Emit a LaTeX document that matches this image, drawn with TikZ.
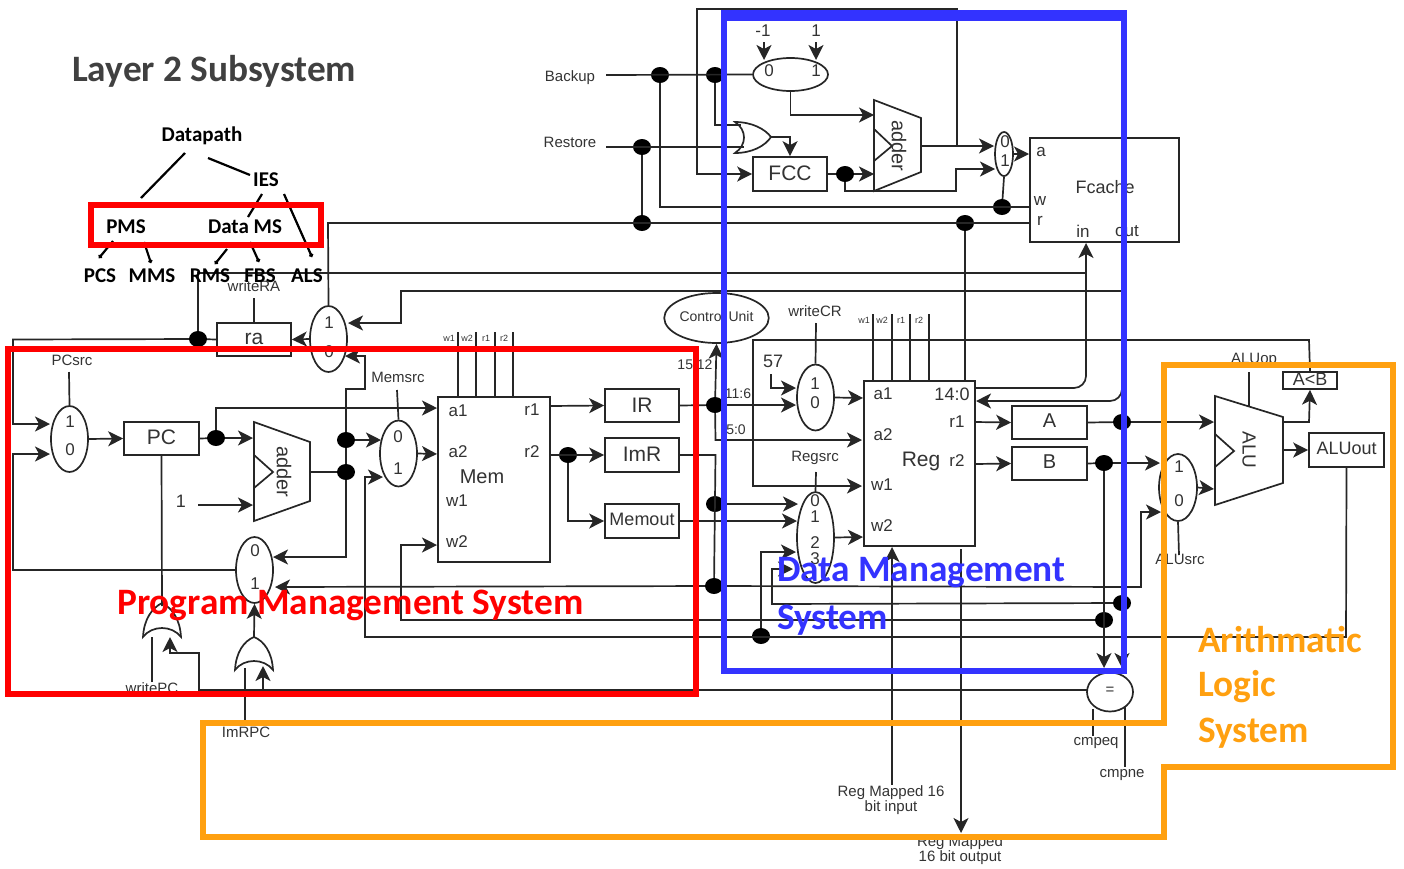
\documentclass[tikz,border=0pt]{standalone}
\usepackage{fontspec}
\setmainfont{Liberation Sans}
\newfontfamily\carl{Carlito}
\usetikzlibrary{arrows.meta,shapes.geometric}
\newcommand{\fz}[1]{\fontsize{#1}{#1}\selectfont}
\newcommand{\up}[2]{\raisebox{#1pt}{#2}}
\definecolor{wirec}{HTML}{262626}
\definecolor{labc}{HTML}{333333}
\definecolor{orangeb}{HTML}{FFA010}
\definecolor{blueb}{HTML}{3333FF}
\definecolor{title}{HTML}{404040}
\tikzset{
 wire/.style={draw=wirec,line width=1.7pt,line join=miter},
 arr/.style={wire,-{Stealth[length=15pt,width=15pt,inset=4pt]}},
 box/.style={draw=wirec,line width=1.7pt,rectangle,inner sep=0pt,fill=white,text=labc},
 mux/.style={draw=wirec,line width=1.7pt,ellipse,inner sep=0pt,minimum width=37pt,minimum height=66pt},
 jdot/.style={ellipse,fill=black,inner sep=0pt,minimum width=18pt,minimum height=16pt},
 shapeline/.style={draw=wirec,line width=1.7pt,line join=miter},
 lab/.style={inner sep=0pt,text=labc,font=\fz{15},align=center},
 lab14/.style={lab,font=\fz{14}},
 lab18/.style={lab,font=\fz{18}},
 lab17/.style={lab,font=\fz{17}},
 lab9/.style={lab,font=\fz{9}},
 lab21/.style={lab,font=\fz{21}},
 tree/.style={inner sep=0pt,text=black,font=\carl\bfseries\fz{21}},
 treeline/.style={draw=black,line width=2.2pt},
 frame/.style={line width=6pt,line join=miter,fill=none},
 sysname/.style={inner sep=0pt,anchor=west,font=\carl\bfseries\fz{37.3}},
}
\begin{document}
\begin{tikzpicture}[x=1pt,y=-1pt]
\useasboundingbox (0,0) rectangle (1404,868);
% ---------- ports and free ends
\coordinate (pmI1) at (50,424); \coordinate (pmI0) at (50,454);
\coordinate (aI1) at (253,438); \coordinate (aI2) at (253,505);
\coordinate (aO) at (310,472); \coordinate (cOne) at (198,505);
\coordinate (memA1) at (437,408); \coordinate (memA2) at (437,454);
\coordinate (memW2) at (437,545); \coordinate (memR1) at (550,406);
\coordinate (memR2) at (550,455);
\coordinate (mmI0) at (381,440); \coordinate (mmI1) at (383,477);
\coordinate (rmI1) at (348,323); \coordinate (rmI0) at (345,356);
\coordinate (lmI0) at (273,557); \coordinate (lmI1) at (275,587);
\coordinate (regA1) at (863,398); \coordinate (regA2) at (862,440);
\coordinate (regW1) at (862,486); \coordinate (regW2) at (863,537);
\coordinate (reg140) at (975,388); \coordinate (regIn) at (976,401);
\coordinate (regR1) at (975,422); \coordinate (regR2) at (975,464);
\coordinate (wcI1) at (796,388); \coordinate (wcI0) at (796,405);
\coordinate (rsI0) at (798,504); \coordinate (rsI1) at (797,521);
\coordinate (rsI2) at (796,552); \coordinate (rsI3) at (793,569);
\coordinate (amI1) at (1160,463); \coordinate (amI0) at (1161,512);
\coordinate (aluA) at (1214,422); \coordinate (aluB) at (1214,489);
\coordinate (aluO1) at (1283,422); \coordinate (aluO2) at (1283,450);
\coordinate (fcA) at (1029,154); \coordinate (fcW) at (1030,207);
\coordinate (fcR) at (1030,223); \coordinate (fcIn) at (1086,243);
\coordinate (jIn) at (1086,273); \coordinate (jBack) at (1122,291);
\coordinate (a2I1) at (874,115); \coordinate (a2I2) at (874,174);
\coordinate (a2O) at (921,146); \coordinate (jFb) at (957,146);
\coordinate (smI0) at (994,146); \coordinate (smI1) at (995,169);
\coordinate (orA1) at (741,125); \coordinate (orA2) at (744,147);
\coordinate (orO) at (771,137);
\coordinate (backupEnd) at (606,75); \coordinate (restoreEnd) at (606,147);
\coordinate (g1R) at (170,637); \coordinate (g1L) at (152,637); \coordinate (g1T) at (162,606);
\coordinate (g2R) at (263,666); \coordinate (g2L) at (245,668); \coordinate (g2T) at (254,637);
\coordinate (writePCc) at (152,682); \coordinate (imRPCc) at (245,720);
\coordinate (regInB) at (892,785); \coordinate (regOutB) at (961,833);
\coordinate (regOutT) at (961,549); \coordinate (regInT) at (892,547);
\coordinate (eqA) at (1122,668); \coordinate (eqB) at (1104,668);
\coordinate (eqW) at (1087,690);
\coordinate (cmpeqE) at (1093,736); \coordinate (cmpneE) at (1125,767);
\coordinate (cPCsrc) at (69,372); \coordinate (cMemsrc) at (397,390);
\coordinate (cWriteRA) at (254,298); \coordinate (cWriteCR) at (816,323);
\coordinate (cRegsrc) at (816,472); \coordinate (cALUsrc) at (1179,555);
\coordinate (cALUop) at (1249,372); \coordinate (aluTop) at (1249,407);
\coordinate (c57) at (771,374); \coordinate (cm1) at (764,42); \coordinate (cp1) at (816,42);
\coordinate (fmI0) at (764,60); \coordinate (fmI1) at (816,60);
% ---------- boxes and muxes
\node[box,minimum width=75pt,minimum height=33pt,font=\fz{21}] (pc) at (161.5,438.5) {\up{2}{PC}};
\node[box,minimum width=74pt,minimum height=33pt,font=\fz{21}] (ra) at (254,339.5) {\up{1}{ra}};
\node[box,minimum width=112pt,minimum height=165pt] (mem) at (494,479.5) {};
\node[box,minimum width=74pt,minimum height=33pt,font=\fz{21}] (ir) at (642,405.5) {\up{1}{IR}};
\node[box,minimum width=74pt,minimum height=34pt,font=\fz{21}] (imr) at (642,455) {\up{2}{ImR}};
\node[box,minimum width=74pt,minimum height=34pt,font=\fz{18}] (memout) at (642,521) {\up{3}{Memout}};
\node[box,minimum width=111pt,minimum height=165pt] (reg) at (919.5,463.5) {};
\node[box,minimum width=75pt,minimum height=33pt,font=\fz{20}] (rega) at (1049.5,422.5) {\up{3}{A}};
\node[box,minimum width=75pt,minimum height=33pt,font=\fz{20}] (regb) at (1049.5,463.5) {\up{3}{B}};
\node[box,minimum width=54pt,minimum height=17pt,font=\fz{18}] (aob) at (1310,380.5) {\up{2}{A<B}};
\node[box,minimum width=75pt,minimum height=34pt,font=\fz{18}] (aluout) at (1346.5,450) {\up{3}{ALUout}};
\node[box,minimum width=74pt,minimum height=34pt,font=\fz{21}] (fcc) at (790,174) {\up{2}{FCC}};
\node[box,minimum width=149pt,minimum height=104pt] (fcache) at (1104.5,190) {};
\node[mux] (pcmux) at (69.5,439) {};
\node[mux] (ramux) at (328.5,339) {};
\node[mux] (memmux) at (398.5,453.5) {};
\node[mux] (lomux) at (254.5,570) {};
\node[mux] (wcmux) at (815.5,397.5) {};
\node[mux,minimum height=91pt] (rsmux) at (815.5,537.5) {};
\node[mux,minimum height=67pt,minimum width=38pt] (alumux) at (1178,487.5) {};
\node[mux,minimum width=75pt,minimum height=33pt] (fmux) at (790.5,74.5) {};
\node[mux,minimum width=18pt,minimum height=44pt] (smux) at (1004,154) {};
\node[draw=wirec,line width=1.7pt,ellipse,inner sep=0pt,minimum width=46pt,minimum height=39pt,text=labc,font=\fz{15}] (eq) at (1110,692) {\up{3}{=}};
\node[draw=wirec,line width=1.7pt,ellipse,inner sep=0pt,minimum width=103pt,minimum height=50pt,text=labc,font=\fz{14}] (cu) at (716.5,318) {\up{4}{Control Unit}};
% ---------- junction dots
\node[jdot] (dRA) at (198,339) {};
\node[jdot] (dPC) at (216,438) {};
\node[jdot] (dMem) at (346,440) {};
\node[jdot] (dAdd) at (346,472) {};
\node[jdot] (dR2) at (568,455) {};
\node[jdot] (dIR) at (715,405) {};
\node[jdot] (dImR) at (715,504) {};
\node[jdot] (dP) at (714,586) {};
\node[jdot] (dY) at (761,636) {};
\node[jdot] (dA) at (1122,422) {};
\node[jdot] (dB) at (1104,463) {};
\node[jdot] (dA2) at (1122,603) {};
\node[jdot] (dB2) at (1104,620) {};
\node[jdot] (dBk1) at (660,75) {};
\node[jdot] (dBk2) at (715,75) {};
\node[jdot] (dRs1) at (642,147) {};
\node[jdot] (dRs2) at (642,223) {};
\node[jdot] (dFcc) at (845,174) {};
\node[jdot] (dW) at (1002,207) {};
\node[jdot] (dFr) at (965,223) {};
% ---------- drawn shapes
\draw[shapeline,fill=white] (254,422) -- (310,442) -- (310,501) -- (254,521) -- cycle;
\draw[shapeline] (254,455) -- (273,472) -- (254,488);
\draw[shapeline,fill=white] (874,100) -- (921,118) -- (921,172) -- (874,191) -- cycle;
\draw[shapeline] (874,129) -- (892,146) -- (874,161);
\draw[shapeline,fill=white] (1215,396) -- (1283,417) -- (1283,483) -- (1215,505) -- cycle;
\draw[shapeline] (1215,434) -- (1234,451) -- (1215,467);
% OR gates
\draw[shapeline,fill=white] (143,637) .. controls (144,619) and (152,608) .. (162,603) .. controls (172,608) and (180,619) .. (181,637) .. controls (172,625) and (152,625) .. (143,637) -- cycle;
\draw[shapeline,fill=white] (235,670) .. controls (236,652) and (244,641) .. (254,637) .. controls (264,641) and (272,652) .. (273,670) .. controls (264,658) and (244,658) .. (235,670) -- cycle;
\draw[shapeline,fill=white] (735,122) .. controls (752,122) and (765,129) .. (771,137) .. controls (765,146) and (752,153) .. (735,153) .. controls (747,145) and (747,130) .. (735,122) -- cycle;
% ---------- connectors
\draw[arr] (ra.west) -- (dRA) -- (13,339.5) -- (13,424) -- (pmI1);
\draw[wire] (dRA) -- (198,273) -- (jIn);
\draw[arr] (lomux.west) -- (13,570) -- (13,454) -- (pmI0);
\draw[wire] (cPCsrc) -- (pcmux.north);
\draw[arr] (pcmux.east) -- (pc.west);
\draw[arr] (pc.east) -- (dPC) -- (aI1);
\draw[arr] (dPC) -- (216,408) -- (memA1);
\draw[arr] (cOne) -- (aI2);
\draw[wire] (aO) -- (dAdd);
\draw[arr] (dAdd) -- (346,557) -- (lmI0);
\draw[arr] (dAdd) -- (dMem) -- (346,389) -- (365,389) -- (365,356) -- (rmI0);
\draw[arr] (dMem) -- (mmI0);
\draw[arr] (aluout.south) -- (1346,637) -- (365,637) -- (365,477) -- (mmI1);
\draw[arr] (dY) -- (761,552) -- (rsI2);
\draw[arr] (memmux.east) -- (memA2);
\draw[wire] (cMemsrc) -- (memmux.north);
\draw[arr] (ramux.west) -- (ra.east);
\draw[wire] (cWriteRA) -- (ra.north);
\draw[arr] (jBack) -- (401,291) -- (401,323) -- (rmI1);
\draw[arr,rounded corners=12pt] (jBack) -- (1122,401) -- (regIn);
\draw[wire] (ramux.north) -- (328,223) -- (fcR);
% memory pins
\foreach \x in {458,476,495,513} \draw[wire] (\x,332) -- (\x,397);
\foreach \x in {873,892,910,929} \draw[wire] (\x,314) -- (\x,381);
\draw[arr] (memR1) -- (ir.west);
\draw[arr] (memR2) -- (imr.west);
\draw[arr] (dR2) -- (568,521) -- (memout.west);
\draw[arr] (ir.east) -- (dIR) -- (wcI0);
\draw[arr] (dIR) -- (cu.south);
\draw[arr] (dIR) -- (715.5,440) -- (regA2);
\draw[wire] (imr.east) -- (715.5,455) -- (dP);
\draw[arr] (dImR) -- (rsI0);
\draw[arr] (memout.east) -- (rsI1);
\draw[arr] (dP) -- (lmI1);
\draw[arr] (dP) -- (1141,587) -- (1141,512) -- (amI0);
\draw[arr] (dB2) -- (401,620) -- (401,545) -- (memW2);
\draw[arr] (dA2) -- (772,604) -- (772,569) -- (rsI3);
\draw[arr] (dB) -- (eqB);
\draw[arr] (dA) -- (eqA);
\draw[arr] (eqW) -- (199,690) -- (199,653) -- (170,653) -- (g1R);
\draw[arr] (263,690) -- (g2R);
\draw[wire] (writePCc) -- (g1L);
\draw[wire] (imRPCc) -- (g2L);
\draw[arr] (g2T) -- (lomux.south);
\draw[wire] (pc.south) -- (g1T);
\draw[arr] (wcmux.east) -- (regA1);
\draw[arr] (rsmux.east) -- (regW2);
\draw[wire] (cWriteCR) -- (wcmux.north);
\draw[wire] (cRegsrc) -- (rsmux.north);
\draw[arr] (c57) -- (771,388) -- (wcI1);
\draw[arr] (aob.north) -- (1309,340) -- (753,340) -- (753,486) -- (regW1);
\draw[arr,rounded corners=12pt] (reg140) -- (1086,388) -- (fcIn);
\draw[wire] (dFr) -- (965,381);
\draw[arr] (regInB) -- (regInT);
\draw[arr] (regOutT) -- (regOutB);
\draw[arr] (regR1) -- (rega.west);
\draw[arr] (regR2) -- (regb.west);
\draw[arr] (rega.east) -- (dA) -- (aluA);
\draw[arr] (regb.east) -- (dB) -- (amI1);
\draw[arr] (alumux.east) -- (aluB);
\draw[wire] (cALUsrc) -- (alumux.south);
\draw[wire] (cALUop) -- (aluTop);
\draw[arr] (aluO1) -- (1309,422) -- (aob.south);
\draw[arr] (aluO2) -- (aluout.west);
\draw[wire] (1093,709) -- (cmpeqE);
\draw[wire] (1125,706) -- (cmpneE);
% Fcache part
\draw[wire] (backupEnd) -- (fmux.west);
\draw[wire] (restoreEnd) -- (orA2);
\draw[wire] (dBk2) -- (715,125) -- (orA1);
\draw[wire] (dBk1) -- (660,207) -- (fcW);
\draw[wire] (dRs1) -- (dRs2);
\draw[wire] (dW) -- (smux.south);
\draw[arr] (orO) -- (790,137) -- (fcc.north);
\draw[arr] (fmux.south) -- (790.5,115) -- (a2I1);
\draw[arr] (cm1) -- (fmI0);
\draw[arr] (cp1) -- (fmI1);
\draw[arr] (fcc.east) -- (dFcc) -- (a2I2);
\draw[arr] (dFcc) -- (845,191) -- (956,191) -- (956,169) -- (smI1);
\draw[arr] (a2O) -- (smI0);
\draw[arr] (jFb) -- (957,9) -- (697,9) -- (697,174) -- (fcc.west);
\draw[arr] (smux.east) -- (fcA);
% ---------- labels
\node[lab] (tPCsrc) at (72,360) {PCsrc};
\node[lab17] (p1) at (70,422) {1};
\node[lab17] (p0) at (70,450) {0};
\node[lab,rotate=-90,font=\fz{20}] (tAdd) at (284,472) {adder};
\node[lab18] (tOne) at (181,501) {1};
\node[lab] (tWriteRA) at (254,286) {writeRA};
\node[lab17] (r1) at (329,323) {1};
\node[lab17] (r0) at (329,352) {0};
\node[lab] (tMemsrc) at (398,377) {Memsrc};
\node[lab17] (m0) at (398,437) {0};
\node[lab17] (m1) at (398,469) {1};
\node[lab17] (l0) at (255,551) {0};
\node[lab17] (l1) at (255,584) {1};
\node[lab9] (pw1) at (449,338) {w1};
\node[lab9] (pw2) at (467,338) {w2};
\node[lab9] (pr1) at (486,338) {r1};
\node[lab9] (pr2) at (504,338) {r2};
\node[lab17] (ma1) at (458,411) {a1};
\node[lab17] (ma2) at (458,452) {a2};
\node[lab17] (mw1) at (457,501) {w1};
\node[lab17] (mw2) at (457,542) {w2};
\node[lab17] (mr1) at (532,410) {r1};
\node[lab17] (mr2) at (532,452) {r2};
\node[lab,font=\fz{20}] (tMem) at (482,477) {Mem};
\node[lab] (tWritePC) at (152,688) {writePC};
\node[lab] (tImRPC) at (246,732) {ImRPC};
\node[lab14] (t1512) at (695,365) {15:12};
\node[lab14] (t116) at (738,394) {11:6};
\node[lab14] (t50) at (736,430) {5:0};
\node[lab] (tWriteCR) at (815,311) {writeCR};
\node[lab18] (t57) at (773,361) {57};
\node[lab17] (w1) at (815,384) {1};
\node[lab17] (w0) at (815,403) {0};
\node[lab] (tRegsrc) at (815,458) {Regsrc};
\node[lab17] (s0) at (815,501) {0};
\node[lab17] (s1) at (815,517) {1};
\node[lab17] (s2) at (815,543) {2};
\node[lab17] (s3) at (815,559) {3};
\node[lab9] (gw1) at (864,320) {w1};
\node[lab9] (gw2) at (882,320) {w2};
\node[lab9] (gr1) at (901,320) {r1};
\node[lab9] (gr2) at (919,320) {r2};
\node[lab17] (ga1) at (883,394) {a1};
\node[lab17] (ga2) at (883,435) {a2};
\node[lab17] (gw1b) at (882,485) {w1};
\node[lab17] (gw2b) at (882,526) {w2};
\node[lab18] (g140) at (952,394) {14:0};
\node[lab17] (gr1b) at (957,422) {r1};
\node[lab17] (gr2b) at (957,461) {r2};
\node[lab21] (tReg) at (921,461) {Reg};
\node[lab17] (a1) at (1179,467) {1};
\node[lab17] (a0) at (1179,501) {0};
\node[lab] (tALUsrc) at (1180,559) {ALUsrc};
\node[lab] (tALUop) at (1254,360) {ALUop};
\node[lab,rotate=-90,font=\fz{19}] (tALU) at (1249,450) {ALU};
\node[lab] (tcmpeq) at (1096,743) {cmpeq};
\node[lab] (tcmpne) at (1122,775) {cmpne};
\node[lab] (tRegIn) at (891,800) {Reg Mapped 16\\bit input};
\node[lab] (tRegOut) at (960,850) {Reg Mapped\\16 bit output};
\node[lab] (tBackup) at (570,78) {Backup};
\node[lab] (tRestore) at (570,142) {Restore};
\node[lab17] (tm1) at (763,31) {-1};
\node[lab17] (tp1) at (816,31) {1};
\node[lab17] (f0) at (769,71) {0};
\node[lab17] (f1) at (816,71) {1};
\node[lab17] (q0) at (1005,142) {0};
\node[lab17] (q1) at (1005,161) {1};
\node[lab,rotate=-90,font=\fz{20}] (tAdd2) at (899,146) {adder};
\node[lab17] (fa) at (1041,152) {a};
\node[lab17] (fw) at (1040,201) {w};
\node[lab17] (fr) at (1040,221) {r};
\node[lab17] (fin) at (1083,231) {in};
\node[lab17] (fout) at (1127,231) {out};
\node[lab18] (tFc) at (1105,187) {Fcache};
% ---------- tree
\node[inner sep=0pt,anchor=west,text=title,font=\carl\bfseries\fz{37.3}] (tTitle) at (72,71) {Layer 2 Subsystem};
\node[tree] (dp) at (202,136) {Datapath};
\node[tree] (ies) at (266,180) {IES};
\node[tree] (pms) at (126,227) {PMS};
\node[tree] (dms) at (245,227) {Data MS};
\node[tree] (pcs) at (100,276) {PCS};
\node[tree] (mms) at (152,276) {MMS};
\node[tree] (rms) at (210,276) {RMS};
\node[tree] (fbs) at (260,276) {FBS};
\node[tree] (als) at (307,276) {ALS};
\draw[treeline] (185,153) -- (141,198);
\draw[treeline] (208,158) -- (250,175);
\draw[treeline] (262,194) -- (248,217);
\draw[treeline,-{Circle[length=4pt]}] (284,194) -- (312,257);
\draw[treeline,-{Circle[length=4pt]}] (113,241) -- (99,258);
\draw[treeline,-{Circle[length=4pt]}] (144,242) -- (151,263);
\draw[treeline,-{Circle[length=4pt]}] (227,249) -- (215,264);
\draw[treeline,-{Circle[length=4pt]}] (250,242) -- (259,262);
% ---------- coloured frames
\draw[frame,draw=red] (90.5,205) rectangle (320.5,245);
\draw[frame,draw=red] (8,349) rectangle (696,694);
\draw[frame,draw=orangeb] (1164,365) -- (1393,365) -- (1393,767) -- (1164,767) -- (1164,837) -- (203,837) -- (203,723) -- (1164,723) -- cycle;
\draw[frame,draw=blueb] (724,15) rectangle (1124,671);
\fill[blueb] (721,10) rectangle (1127,21);
\node[sysname,text=red] (nPMS) at (117,605) {Program Management System};
\node[sysname,text=blueb] (nDMS1) at (777,573) {Data Management};
\node[sysname,text=blueb] (nDMS2) at (777,620) {System};
\node[sysname,text=orangeb] (nALS1) at (1198,640) {Arithmatic};
\node[sysname,text=orangeb] (nALS2) at (1198,687) {Logic};
\node[sysname,text=orangeb] (nALS3) at (1198,733) {System};
\end{tikzpicture}
\end{document}
